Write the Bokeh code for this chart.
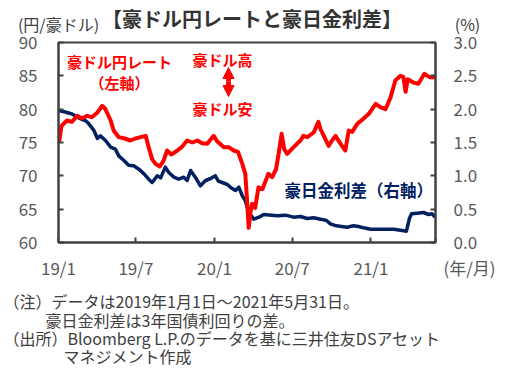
import pandas as pd
from bokeh.plotting import figure
from bokeh.layouts import column
from bokeh.models import (Range1d, LinearAxis, FixedTicker, Label, Arrow, NormalHead,
                          ColumnDataSource, Title)
from bokeh.embed import file_html
from bokeh.resources import INLINE

# ---------------- data ----------------
aud_dates = [
    "2019-01-02", "2019-01-03", "2019-01-08", "2019-01-21", "2019-02-01", "2019-02-14",
    "2019-02-25", "2019-03-09", "2019-03-20", "2019-04-02", "2019-04-13", "2019-04-20",
    "2019-05-03", "2019-05-10", "2019-05-22", "2019-06-05", "2019-06-18", "2019-06-30",
    "2019-07-12", "2019-07-24", "2019-07-31", "2019-08-08", "2019-08-16", "2019-08-26",
    "2019-09-04", "2019-09-12", "2019-09-22", "2019-10-06", "2019-10-16", "2019-10-29",
    "2019-11-10", "2019-11-22", "2019-12-03", "2019-12-15", "2019-12-30", "2020-01-07",
    "2020-01-23", "2020-02-03", "2020-02-15", "2020-02-25", "2020-03-06", "2020-03-13",
    "2020-03-17", "2020-03-21", "2020-03-25", "2020-03-29", "2020-04-05", "2020-04-13",
    "2020-04-22", "2020-05-06", "2020-05-15", "2020-05-24", "2020-05-30", "2020-06-06",
    "2020-06-12", "2020-06-19", "2020-07-04", "2020-07-20", "2020-07-27", "2020-08-05",
    "2020-08-20", "2020-08-31", "2020-09-05", "2020-09-24", "2020-10-01", "2020-10-10",
    "2020-10-22", "2020-11-02", "2020-11-10", "2020-11-18", "2020-11-30", "2020-12-15",
    "2020-12-27", "2021-01-12", "2021-01-23", "2021-02-04", "2021-02-16", "2021-02-27",
    "2021-03-11", "2021-03-18", "2021-03-23", "2021-03-28", "2021-04-10", "2021-04-22",
    "2021-05-06", "2021-05-18", "2021-05-31",
]
aud_jpy = [
    77.2, 75.3, 77.5, 78.3, 78.1, 79.0,
    78.6, 79.0, 78.8, 79.5, 80.5, 80.1,
    78.3, 76.8, 75.8, 75.6, 75.3, 75.6,
    75.8, 76.0, 74.3, 72.5, 71.8, 71.4,
    72.3, 73.8, 73.2, 73.8, 74.3, 75.3,
    75.0, 75.3, 74.9, 74.8, 76.0, 75.2,
    74.3, 74.3, 73.8, 73.6, 71.8, 70.3,
    66.5, 62.2, 64.5, 65.8, 65.2, 68.3,
    68.0, 70.3, 69.8, 71.0, 73.3, 76.3,
    74.0, 73.3, 74.3, 75.3, 76.0, 75.8,
    76.5, 78.1, 77.0, 74.5, 75.2, 76.0,
    74.8, 73.8, 76.8, 76.6, 77.8, 78.6,
    79.3, 80.8, 80.3, 80.0, 81.8, 84.3,
    85.0, 84.8, 82.6, 84.5, 84.0, 83.8,
    85.3, 84.8, 84.8,
]

spread_dates = [
    "2019-01-02", "2019-01-21", "2019-02-01", "2019-02-14", "2019-02-27", "2019-03-05",
    "2019-03-13", "2019-03-25", "2019-04-02", "2019-04-09", "2019-04-21", "2019-05-03",
    "2019-05-14", "2019-05-22", "2019-06-03", "2019-06-14", "2019-06-26", "2019-07-08",
    "2019-07-20", "2019-07-31", "2019-08-08", "2019-08-20", "2019-08-28", "2019-09-08",
    "2019-09-16", "2019-09-28", "2019-10-09", "2019-10-21", "2019-10-29", "2019-11-06",
    "2019-11-17", "2019-11-29", "2019-12-11", "2019-12-23", "2020-01-03", "2020-01-10",
    "2020-01-19", "2020-01-31", "2020-02-07", "2020-02-19", "2020-02-27", "2020-03-06",
    "2020-03-13", "2020-03-21", "2020-04-02", "2020-04-14", "2020-04-25", "2020-05-27",
    "2020-06-15", "2020-07-04", "2020-07-20", "2020-08-05", "2020-08-20", "2020-09-05",
    "2020-09-19", "2020-09-28", "2020-10-12", "2020-11-06", "2020-11-21", "2020-12-03",
    "2020-12-15", "2020-12-31", "2021-01-30", "2021-02-23", "2021-03-15", "2021-03-25",
    "2021-04-01", "2021-04-06", "2021-04-19", "2021-05-04", "2021-05-16", "2021-05-24",
    "2021-05-31",
]
spread = [
    1.98, 1.95, 1.93, 1.88, 1.84, 1.83,
    1.78, 1.68, 1.56, 1.60, 1.53, 1.43,
    1.40, 1.30, 1.23, 1.16, 1.15, 1.10,
    1.03, 0.95, 0.90, 1.00, 0.97, 1.13,
    1.05, 0.98, 0.95, 0.98, 0.93, 1.08,
    0.98, 0.85, 0.93, 0.96, 1.00, 0.92,
    0.90, 0.87, 0.83, 0.78, 0.83, 0.70,
    0.63, 0.45, 0.35, 0.38, 0.42, 0.40,
    0.41, 0.38, 0.39, 0.36, 0.37, 0.35,
    0.33, 0.28, 0.25, 0.23, 0.25, 0.24,
    0.22, 0.20, 0.20, 0.20, 0.18, 0.17,
    0.36, 0.43, 0.44, 0.45, 0.42, 0.43,
    0.38,
]

x_tick_dates = ["2019-01-01", "2019-07-01", "2020-01-01", "2020-07-01", "2021-01-01"]
x_tick_labels = ["19/1", "19/7", "20/1", "20/7", "21/1"]
x_unit_label = "(年/月)"
left_unit_label = "(円/豪ドル)"
right_unit_label = "(%)"
title_text = "【豪ドル円レートと豪日金利差】"
left_ticks = [60, 65, 70, 75, 80, 85, 90]
right_ticks = [0.0, 0.5, 1.0, 1.5, 2.0, 2.5, 3.0]

# ---------------- helpers ----------------
def ms(s):
    return pd.Timestamp(s).value / 1e6

W = 505
PAGE_H = 372
CHART_H = 282
X_START, X_END = ms("2019-01-01"), ms("2021-06-01")
Y_LO, Y_HI = 60, 90
FL, FR, FT, FB = 58, 435, 42, 242   # frame edges in page pixels
FONT = "Noto Sans CJK JP"
GREY = "#404040"
RED = "#FF0000"
NAVY = "#002060"
PAD = "\u3000\u3000\u3000\u3000"   # pushes an end-of-axis label past the frame edge


def px_x(xp):
    return X_START + (xp - FL) / (FR - FL) * (X_END - X_START)


def px_y(yp):
    return Y_HI - (yp - FT) / (FB - FT) * (Y_HI - Y_LO)


# ---------------- chart ----------------
p = figure(width=W, height=CHART_H, x_axis_type="datetime",
           x_range=Range1d(X_START, X_END), y_range=Range1d(Y_LO, Y_HI),
           output_backend="svg", toolbar_location=None,
           min_border_left=FL, min_border_right=W - FR,
           min_border_top=FT, min_border_bottom=CHART_H - FB)
x_bottom = p.below[0]
y_left = p.left[0]
p.extra_y_ranges = {"r": Range1d(0, 3)}
p.extra_x_ranges = {"page": Range1d(FL, FR)}
y_right = LinearAxis(y_range_name="r")
p.add_layout(y_right, "right")

# header row: unit labels as ticks at both frame ends, title as the axis label
top_ax = LinearAxis(x_range_name="page", ticker=FixedTicker(ticks=[FL, FR]))
top_ax.major_label_overrides = {FL: left_unit_label, FR: PAD + right_unit_label}
top_ax.axis_line_color = None
top_ax.major_tick_line_color = None
top_ax.minor_tick_line_color = None
top_ax.major_tick_in = 0
top_ax.major_tick_out = 0
top_ax.major_label_text_font = FONT
top_ax.major_label_text_font_size = "16px"
top_ax.major_label_text_color = GREY
top_ax.major_label_standoff = 7
top_ax.axis_label = "\u2002" + title_text
top_ax.axis_label_text_font = FONT
top_ax.axis_label_text_font_size = "20px"
top_ax.axis_label_text_font_style = "bold"
top_ax.axis_label_text_color = "#333333"
top_ax.axis_label_standoff = -24
p.add_layout(top_ax, "above")

p.xgrid.grid_line_color = None
p.ygrid.grid_line_color = None
p.outline_line_color = GREY
p.outline_line_width = 2
p.background_fill_color = "white"
p.border_fill_color = "white"

xt = [ms(d) for d in x_tick_dates] + [X_END]
x_bottom.ticker = FixedTicker(ticks=xt)
overrides = {ms(d): l for d, l in zip(x_tick_dates, x_tick_labels)}
overrides[X_END] = PAD + x_unit_label
x_bottom.major_label_overrides = overrides
y_left.ticker = FixedTicker(ticks=left_ticks)
y_left.major_label_overrides = {t: str(t) for t in left_ticks}
y_right.ticker = FixedTicker(ticks=right_ticks)
y_right.major_label_overrides = {t: f"{t:.1f}" for t in right_ticks}

for ax in [x_bottom, y_left, y_right]:
    ax.axis_line_color = GREY
    ax.axis_line_width = 2
    ax.major_tick_line_color = GREY
    ax.major_tick_line_width = 2
    ax.major_tick_in = 5
    ax.major_tick_out = 0
    ax.minor_tick_line_color = None
    ax.major_label_text_font = FONT
    ax.major_label_text_font_size = "17px"
    ax.major_label_text_color = "#595959"
y_left.major_label_standoff = 21
y_right.major_label_standoff = 18
x_bottom.major_label_standoff = 12

src_s = ColumnDataSource(dict(x=[ms(d) for d in spread_dates], y=spread))
src_a = ColumnDataSource(dict(x=[ms(d) for d in aud_dates], y=aud_jpy))
p.line("x", "y", source=src_s, y_range_name="r", line_color=NAVY, line_width=3.5, line_join="round")
p.line("x", "y", source=src_a, line_color=RED, line_width=4, line_join="round")


def clab(text, xp, yp, size, color, align="left"):
    p.add_layout(Label(x=px_x(xp), y=px_y(yp), text=text, text_font=FONT,
                       text_font_size=size, text_color=color, text_font_style="bold",
                       text_align=align, text_baseline="middle"))


clab("豪ドル円レート", 119, 61, "15px", RED, align="center")
clab("（左軸）", 119, 82, "15px", RED, align="center")
clab("豪ドル高", 222, 59, "15px", RED, align="center")
clab("豪ドル安", 222, 108, "15px", RED, align="center")
clab("豪日金利差（右軸）", 284, 189, "16.5px", NAVY)

for y_end in (67, 96):
    p.add_layout(Arrow(x_start=px_x(228), y_start=px_y(81), x_end=px_x(228), y_end=px_y(y_end),
                       line_color=RED, line_width=5,
                       end=NormalHead(size=11, fill_color=RED, line_color=RED)))

# ---------------- notes (titles stacked upward from a thin frame at the bottom) ----------------
NOTES_H = PAGE_H - CHART_H
notes = figure(width=W, height=NOTES_H, x_range=Range1d(0, 1), y_range=Range1d(0, 1),
               output_backend="svg", toolbar_location=None,
               x_axis_location=None, y_axis_location=None,
               min_border_left=FL, min_border_right=W - FR,
               min_border_top=86, min_border_bottom=0)
notes.xgrid.grid_line_color = None
notes.ygrid.grid_line_color = None
notes.outline_line_color = None
notes.background_fill_color = "white"
notes.border_fill_color = "white"

note_lines = [  # (text, left x on page, standoff) listed from the bottom line upward
    ("マネジメント作成", 63, 2),
    ("（出所）Bloomberg L.P.のデータを基に三井住友DSアセット", 3, -18),
    ("豪日金利差は3年国債利回りの差。", 45, 2),
    ("（注）データは2019年1月1日～2021年5月31日。", 3, -16),
]
for text, xpage, so in note_lines:
    notes.add_layout(Title(text=text, align="left", offset=xpage - FL, standoff=so,
                           vertical_align="bottom", text_font=FONT, text_font_size="16px",
                           text_font_style="normal", text_color=GREY), "above")

layout = column(p, notes, spacing=0)
open("out.html", "w").write(file_html(layout, INLINE))
